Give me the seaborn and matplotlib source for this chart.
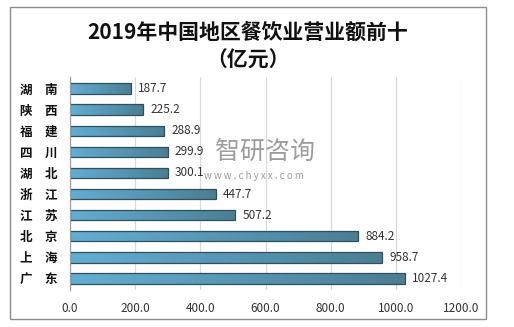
import matplotlib
matplotlib.use("Agg")
import matplotlib.pyplot as plt
import seaborn as sns
import numpy as np
import pandas as pd
from matplotlib.patches import Rectangle

regions = ["湖\u3000南", "陕\u3000西", "福\u3000建", "四\u3000川", "湖\u3000北",
           "浙\u3000江", "江\u3000苏", "北\u3000京", "上\u3000海", "广\u3000东"]
values = [187.7, 225.2, 288.9, 299.9, 300.1, 447.7, 507.2, 884.2, 958.7, 1027.4]
xticks = [0, 200, 400, 600, 800, 1000, 1200]

sns.set_theme(style="white")
plt.rcParams['font.family'] = ['Noto Sans CJK SC', 'DejaVu Sans']

df = pd.DataFrame({"region": regions, "value": values})

fig = plt.figure(figsize=(5.14, 3.27), dpi=100)
ax = fig.add_axes([70/514, 1-290/327, (461-70)/514, (290-77)/327])

sns.barplot(data=df, x="value", y="region", orient="h", ax=ax, width=0.5,
            color="#5A9CBB", edgecolor="#2E4F5E", linewidth=0.9, saturation=1)

# gradient fill clipped to each bar
grad = np.linspace(0, 1, 256).reshape(1, -1)
cmap = matplotlib.colors.LinearSegmentedColormap.from_list("g", ["#64ADD2", "#5796B4", "#4C7E92"])
for p in ax.patches:
    x0, y0 = p.get_x(), p.get_y()
    w, h = p.get_width(), p.get_height()
    im = ax.imshow(grad, cmap=cmap, aspect="auto", extent=(x0, x0 + w, y0 + h, y0),
                   zorder=p.get_zorder() + 0.1)
    im.set_clip_path(p)
    p.set_facecolor("none")
    p.set_zorder(p.get_zorder() + 0.2)

ax.set_xlim(0, 1200)
ax.set_ylim(9.55, -0.55)
ax.set_xticks(xticks)
ax.set_xticklabels([f"{v:.1f}" for v in xticks], fontsize=8.5, color="#333333")
ax.set_xlabel("")
ax.set_ylabel("")
ax.tick_params(axis="y", labelsize=9, length=0, pad=9)
ax.tick_params(axis="x", length=0, pad=9)
for lab in ax.get_yticklabels():
    lab.set_fontweight("bold")
    lab.set_color("#111111")
ax.grid(axis="x", color="#D9D9D9", linewidth=0.9)
ax.set_axisbelow(True)
for s in ["top", "right", "bottom"]:
    ax.spines[s].set_visible(False)
ax.spines["left"].set_color("#A0A0A0")
ax.spines["left"].set_linewidth(0.9)

for i, v in enumerate(values):
    ax.text(v + 22, i, f"{v:.1f}", va="center", ha="left", fontsize=8.5, color="#333333")

# watermark
fig.text(215/514, 1-152/327, "智研咨询", fontsize=18, color="#8C8C8C", va="center", ha="left", alpha=0.85)
fig.text(204/514, 1-176/327, "w w w . c h y x x . c o m", fontsize=7, color="#8C8C8C", va="center", ha="left", alpha=0.85)

fig.text(248/514, 1-33/327, "2019年中国地区餐饮业营业额前十", fontsize=15, fontweight="bold",
         ha="center", va="center", color="#111111")
fig.text(248/514, 1-60/327, "（亿元）", fontsize=15, fontweight="bold",
         ha="center", va="center", color="#111111")

fig.patches.append(Rectangle((10/514, 1-319/327), (486-10)/514, (319-7)/327, transform=fig.transFigure,
                             fill=False, edgecolor="#8C8C8C", linewidth=1.0))

fig.savefig("out.png", dpi=100)
